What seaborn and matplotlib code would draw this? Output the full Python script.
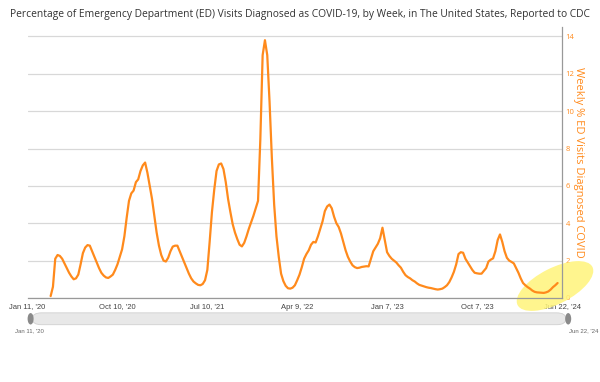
import pandas as pd
import numpy as np
import matplotlib
matplotlib.use("Agg")
import matplotlib.pyplot as plt
import seaborn as sns
from matplotlib.patches import Ellipse, FancyBboxPatch
from matplotlib.transforms import IdentityTransform


# =====================
# DATA
# =====================

title = ("Percentage of Emergency Department (ED) Visits Diagnosed as COVID-19, "
         "by Week, in The United States, Reported to CDC")
y_label = "Weekly % ED Visits Diagnosed COVID"

# first plotted week (weekly, Saturdays)
first_week = "2020-03-21"

pct_ed_visits = [
    0.1, 0.6, 2.1, 2.3, 2.25, 2.1, 1.85, 1.6, 1.35, 1.15,
    1.0, 1.05, 1.25, 1.8, 2.4, 2.7, 2.83, 2.8, 2.5, 2.2,
    1.9, 1.6, 1.35, 1.2, 1.1, 1.07, 1.15, 1.25, 1.5, 1.8,
    2.2, 2.6, 3.3, 4.3, 5.2, 5.6, 5.75, 6.2, 6.35, 6.8,
    7.1, 7.25, 6.7, 6.0, 5.3, 4.4, 3.5, 2.8, 2.3, 2.0,
    1.95, 2.15, 2.5, 2.75, 2.8, 2.8, 2.5, 2.2, 1.9, 1.6,
    1.3, 1.05, 0.88, 0.78, 0.7, 0.68, 0.75, 0.95, 1.5, 3.0,
    4.6, 5.8, 6.8, 7.15, 7.2, 6.9, 6.2, 5.3, 4.6, 3.95,
    3.5, 3.15, 2.85, 2.76, 2.95, 3.3, 3.7, 4.05, 4.4, 4.8,
    5.2, 8.5, 13.0, 13.8, 13.0, 10.5, 7.5, 5.0, 3.3, 2.2,
    1.3, 0.9, 0.65, 0.52, 0.5, 0.55, 0.68, 0.95, 1.25, 1.65,
    2.1, 2.35, 2.55, 2.85, 3.0, 2.97, 3.3, 3.7, 4.1, 4.65,
    4.9, 5.0, 4.8, 4.35, 4.0, 3.8, 3.45, 3.0, 2.55, 2.2,
    1.95, 1.75, 1.65, 1.6, 1.62, 1.66, 1.68, 1.7, 1.69, 2.1,
    2.5, 2.7, 2.9, 3.2, 3.76, 3.1, 2.45, 2.25, 2.1, 2.0,
    1.9, 1.75, 1.62, 1.4, 1.22, 1.12, 1.05, 0.95, 0.88, 0.78,
    0.7, 0.66, 0.62, 0.58, 0.55, 0.53, 0.5, 0.47, 0.45, 0.47,
    0.5, 0.58, 0.68, 0.85, 1.1, 1.4, 1.8, 2.35, 2.45, 2.42,
    2.1, 1.9, 1.7, 1.5, 1.35, 1.32, 1.3, 1.3, 1.45, 1.6,
    1.95, 2.05, 2.12, 2.5, 3.1, 3.4, 3.0, 2.5, 2.15, 2.0,
    1.93, 1.85, 1.6, 1.35, 1.05, 0.8, 0.68, 0.58, 0.5, 0.4,
    0.33, 0.3, 0.29, 0.28, 0.27, 0.3, 0.35, 0.45, 0.58, 0.68,
    0.8,
]

tick_dates = ["2020-01-11", "2020-10-10", "2021-07-10", "2022-04-09",
              "2023-01-07", "2023-10-07", "2024-06-22"]
tick_labels = ["Jan 11, '20", "Oct 10, '20", "Jul 10, '21", "Apr 9, '22",
               "Jan 7, '23", "Oct 7, '23", "Jun 22, '24"]
y_ticks = [0, 2, 4, 6, 8, 10, 12, 14]

df = pd.DataFrame({
    "week": pd.date_range(first_week, periods=len(pct_ed_visits), freq="7D"),
    "pct": pct_ed_visits,
})


# =====================
# PLOT
# =====================

sns.set_style("white")
plt.rcParams["font.family"] = ["Open Sans", "DejaVu Sans"]

orange = "#FF8A1C"
fig = plt.figure(figsize=(6, 3.82), dpi=100)
ax = fig.add_axes([0.046, 0.22, 0.891, 0.709])

# yellow highlighter mark around the latest weeks
ax.add_patch(Ellipse((555, 96), 84, 36, angle=27, transform=IdentityTransform(),
                     facecolor="#FFF47A", edgecolor="none", alpha=0.85,
                     zorder=1, clip_on=False))

sns.lineplot(data=df, x="week", y="pct", color=orange, linewidth=1.6,
             ax=ax, zorder=3)

ax.set_xlim(pd.Timestamp(tick_dates[0]), pd.Timestamp(tick_dates[-1]))
ax.set_ylim(0, 14.5)

ax.set_yticks(y_ticks)
ax.yaxis.tick_right()
ax.yaxis.set_label_position("right")
ax.tick_params(axis="y", colors=orange, labelsize=5.5, length=0, pad=2.5)
ax.set_ylabel(y_label, color=orange, fontsize=8, rotation=-90, labelpad=7)

ax.set_xticks(pd.to_datetime(tick_dates))
ax.set_xticklabels(tick_labels, fontsize=5.5, color="#444444",
                   family="Liberation Sans")
ax.tick_params(axis="x", length=2, width=0.6, color="#999999", pad=2)
ax.set_xlabel("")

ax.grid(axis="y", color="#D8D8D8", linewidth=0.9)
ax.grid(axis="x", visible=False)
for side in ["top", "left"]:
    ax.spines[side].set_visible(False)
ax.spines["bottom"].set_color("#999999")
ax.spines["right"].set_color("#999999")
ax.spines["bottom"].set_linewidth(0.9)
ax.spines["right"].set_linewidth(0.9)

fig.text(0.5, 0.963, title, ha="center", va="center", fontsize=7.4,
         color="#333333")

# range slider under the chart
fig.patches.append(FancyBboxPatch((0.054, 0.150), 0.889, 0.031,
                                  boxstyle="round,pad=0,rounding_size=0.015",
                                  transform=fig.transFigure,
                                  facecolor="#E8E8E8", edgecolor="#D0D0D0",
                                  linewidth=0.6))
for hx in [0.051, 0.947]:
    fig.patches.append(Ellipse((hx, 0.1655), 0.010, 0.03,
                               transform=fig.transFigure,
                               facecolor="#8A8A8A", edgecolor="none"))
fig.text(0.025, 0.133, tick_labels[0], ha="left", va="center", fontsize=4.3,
         color="#666666", family="Liberation Sans")
fig.text(0.997, 0.133, tick_labels[-1], ha="right", va="center",
         fontsize=4.3, color="#666666", family="Liberation Sans")

plt.savefig("out.png", dpi=100)
plt.close()
